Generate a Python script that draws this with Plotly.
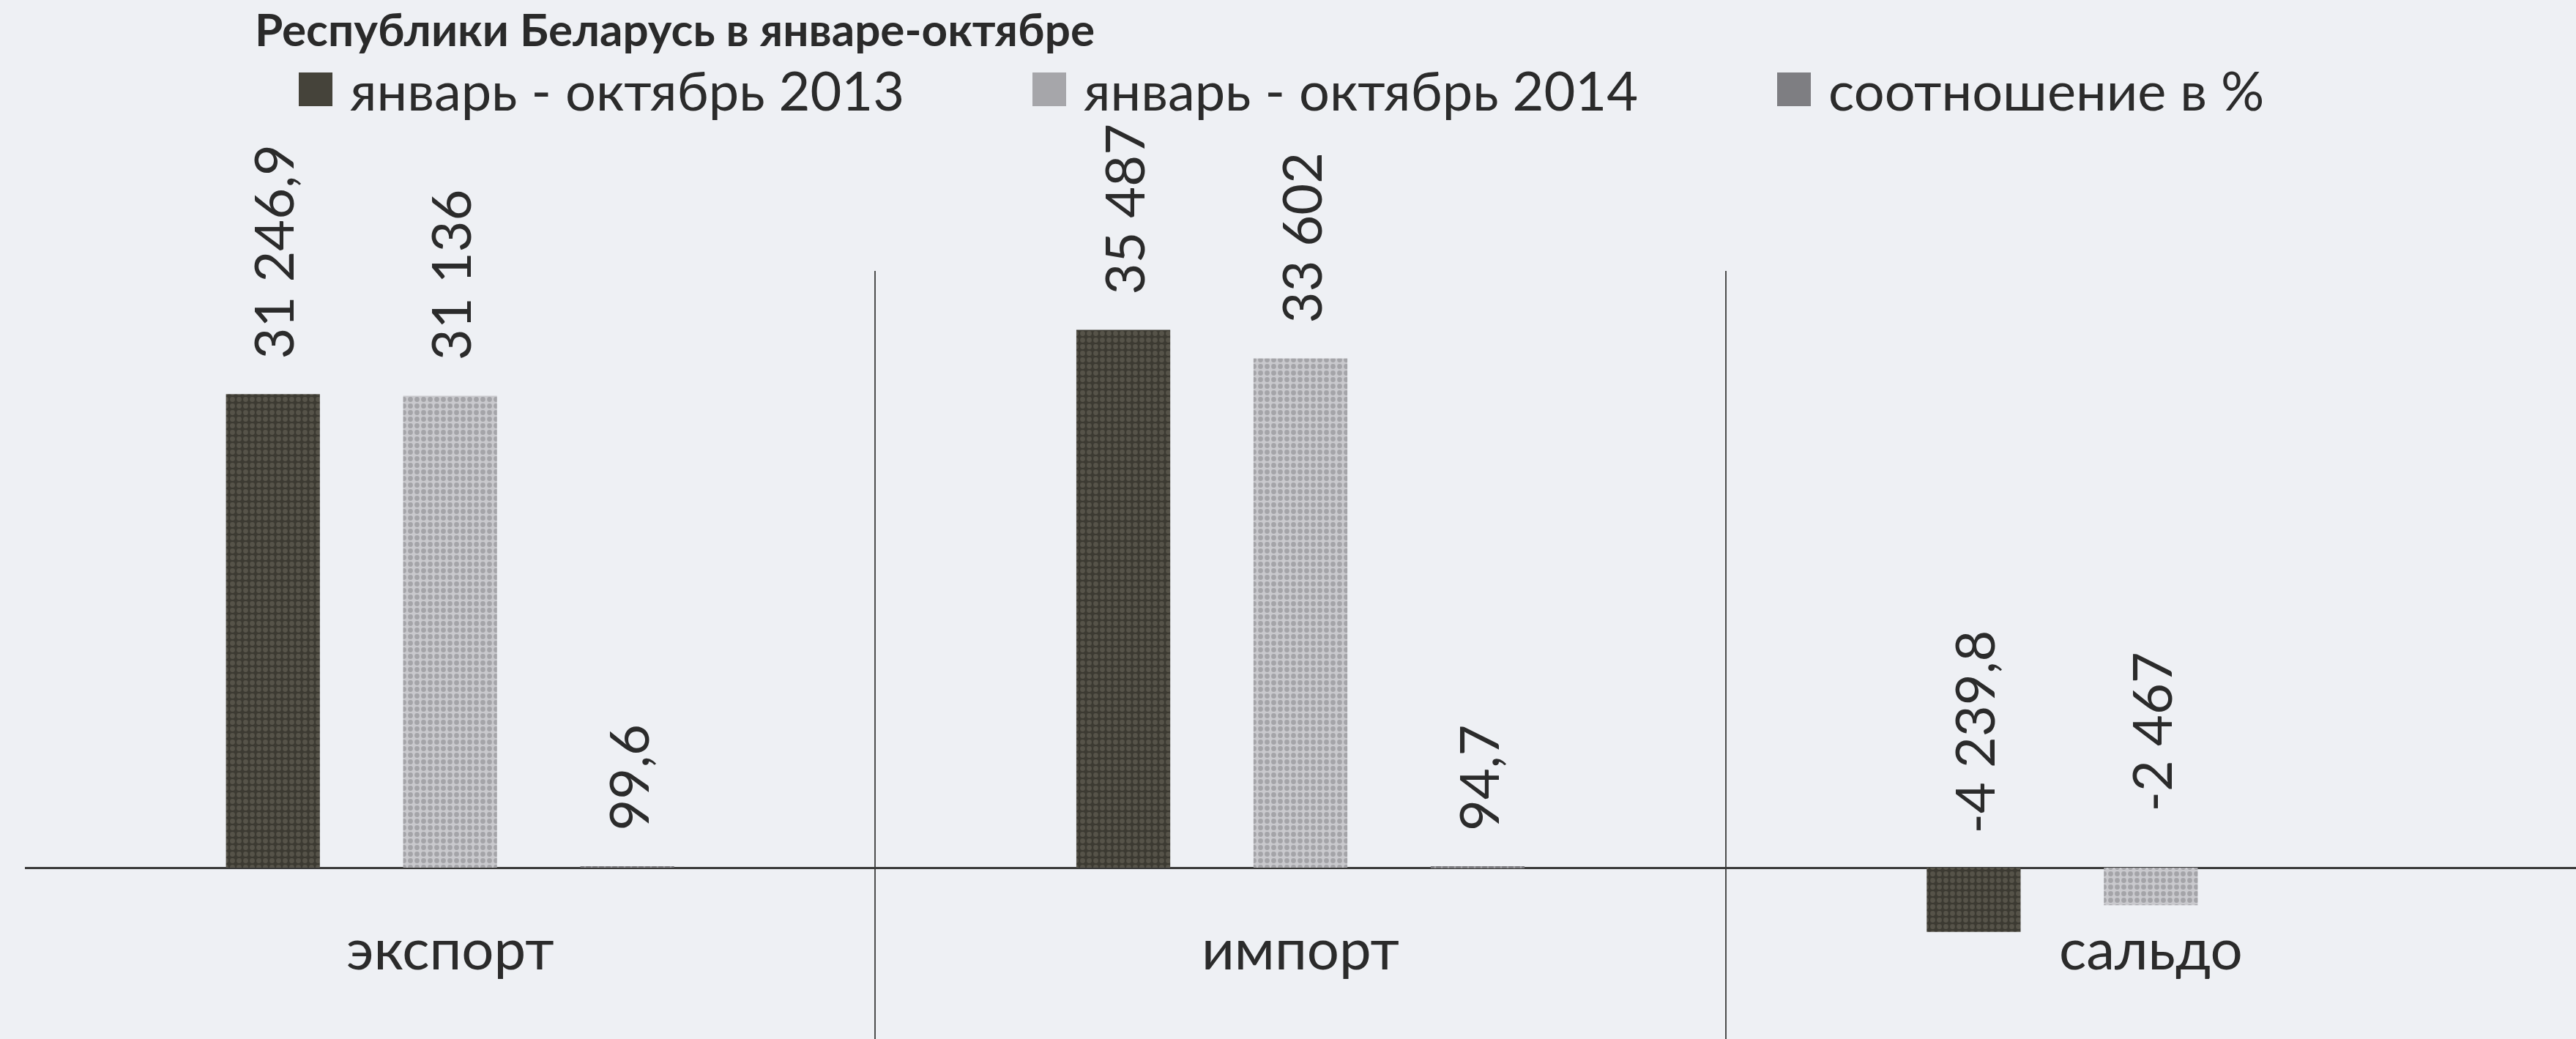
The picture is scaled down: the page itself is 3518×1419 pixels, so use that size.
import plotly.graph_objects as go

# ---------------- data ----------------
categories = ["экспорт", "импорт", "сальдо"]
series_names = ["январь - октябрь 2013", "январь - октябрь 2014", "соотношение в %"]
values_2013 = [31246.9, 35487, -4239.8]
values_2014 = [31136, 33602, -2467]
ratio_pct = [99.6, 94.7, None]
title_text = "Республики Беларусь в январе-октябре"

# ---------------- layout constants ----------------
W, H = 3518, 1419
ML, MR, MT, MB = 34, 0, 370, 0
PLOT_W = W - ML - MR
PLOT_H = H - MT - MB
BARGAP = 0.375
BARGROUPGAP = 0.47
Y_MIN, Y_MAX = -11300, 39370
FONT = "Lato"
TEXT_COLOR = "#2b2b2b"
BG = "#eef0f4"
LABEL_SIZE = 74
LEGEND_SIZE = 74
TITLE_SIZE = 62

styles = [
    dict(bg="#3c3a32", fg="#6f6b5f", legend="#45433a"),
    dict(bg="#c9c9cd", fg="#7f7f84", legend="#a6a6aa"),
    dict(bg="#9c9ca0", fg="#55555a", legend="#7e7e82"),
]
series_values = [values_2013, values_2014, ratio_pct]


def fmt_ru(v):
    s = f"{abs(v):,.1f}".replace(",", " ").replace(".", ",")
    if s.endswith(",0"):
        s = s[:-2]
    return ("-" if v < 0 else "") + s


fig = go.Figure()
for name, vals, st in zip(series_names, series_values, styles):
    fig.add_trace(go.Bar(
        x=categories, y=vals, name=name, showlegend=False,
        marker=dict(
            color=st["bg"], line=dict(width=0),
            pattern=dict(shape=".", fgcolor=st["fg"], bgcolor=st["bg"],
                         size=9, solidity=0.45),
        ),
    ))

# data labels (rotated, like the original)
slot = (1 - BARGAP) / len(series_names)
annotations = []
for j, vals in enumerate(series_values):
    for i, v in enumerate(vals):
        if v is None:
            continue
        xpos = i + (j - (len(series_names) - 1) / 2) * slot
        if v >= 0:
            annotations.append(dict(
                x=xpos, y=v, xref="x", yref="y", text=fmt_ru(v), showarrow=False,
                textangle=-90, yanchor="bottom", xanchor="center", yshift=46,
                font=dict(family=FONT, size=LABEL_SIZE, color=TEXT_COLOR)))
        else:
            annotations.append(dict(
                x=xpos, y=0, xref="x", yref="y", text=fmt_ru(v), showarrow=False,
                textangle=-90, yanchor="middle", xanchor="center", yshift=186,
                font=dict(family=FONT, size=LABEL_SIZE, color=TEXT_COLOR)))


# custom legend (large squares like the original)
def px_to_paper_x(px):
    return (px - ML) / PLOT_W


def px_to_paper_y(py):
    return (H - MB - py) / PLOT_H


legend_square_x = [408, 1410, 2427]
legend_center_y = 122
SQ = 46
shapes = []
for name, st, sx in zip(series_names, styles, legend_square_x):
    shapes.append(dict(
        type="rect", xref="paper", yref="paper",
        x0=px_to_paper_x(sx), x1=px_to_paper_x(sx + SQ),
        y0=px_to_paper_y(legend_center_y + SQ / 2), y1=px_to_paper_y(legend_center_y - SQ / 2),
        fillcolor=st["legend"], line=dict(width=0)))
    annotations.append(dict(
        x=px_to_paper_x(sx + SQ + 22), y=px_to_paper_y(legend_center_y),
        xref="paper", yref="paper", text=name, showarrow=False,
        xanchor="left", yanchor="middle",
        font=dict(family=FONT, size=LEGEND_SIZE, color=TEXT_COLOR)))

zero_pos = (0 - Y_MIN) / (Y_MAX - Y_MIN)

fig.update_layout(
    width=W, height=H, autosize=False,
    margin=dict(l=ML, r=MR, t=MT, b=MB, pad=0),
    paper_bgcolor=BG, plot_bgcolor=BG,
    barmode="group", bargap=BARGAP, bargroupgap=BARGROUPGAP,
    showlegend=False,
    title=dict(text=title_text, x=348 / W, xanchor="left", xref="container",
               y=1, yanchor="top", yref="container", pad=dict(t=20, b=0),
               font=dict(family=FONT, size=TITLE_SIZE, weight="bold", color="#2a2a2a")),
    annotations=annotations,
    shapes=shapes,
    xaxis=dict(
        type="category", categoryorder="array", categoryarray=categories,
        tickson="boundaries", showgrid=True, gridcolor="#4d4d4d", gridwidth=2,
        ticks="", showline=False, anchor="free", position=zero_pos,
        tickfont=dict(family=FONT, size=78, color=TEXT_COLOR),
        ticklabelstandoff=60,
    ),
    yaxis=dict(
        range=[Y_MIN, Y_MAX], showgrid=False, showticklabels=False, ticks="",
        zeroline=True, zerolinecolor="#3a3a3a", zerolinewidth=3, showline=False,
    ),
)

fig.write_html(
    "out.html",
    config={"displayModeBar": False},
    post_script="document.body.style.margin='0';document.body.style.overflow='hidden';",
)
